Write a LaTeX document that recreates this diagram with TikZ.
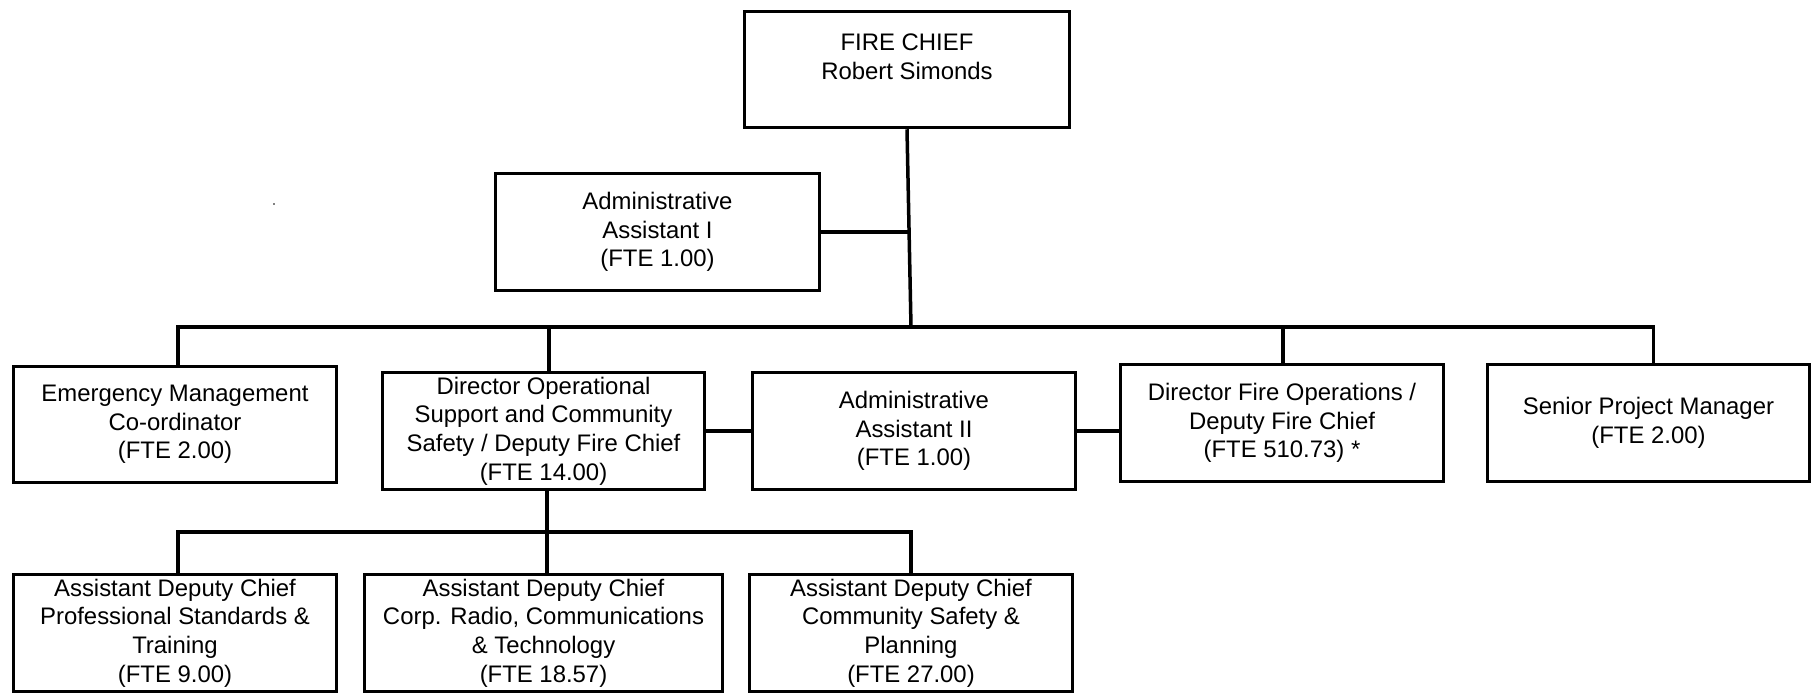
\documentclass[tikz,border=0pt]{standalone}
\usepackage{fontspec}
\setmainfont{Liberation Sans}
\begin{document}
\begin{tikzpicture}[x=1pt,y=-1pt,
  every node/.style={font=\fontsize{23.9}{28.7}\selectfont, align=center, inner sep=0pt},
  post/.style={draw, line width=3.5pt, rectangle, minimum width=#1, minimum height=117pt},
  post/.default=323pt,
  link/.style={line width=3.5pt, line join=miter}]
\useasboundingbox (0,0) rectangle (1815,694);

% top level
\node[post=325pt, minimum height=116pt] (chief) at (907,69.5) {};
\node (chieflabel) at (907,57) {FIRE CHIEF\\Robert Simonds};
\node[post=324pt] (admin1) at (657.5,232) {Administrative\\Assistant I\\(FTE 1.00)};

% second level
\node[post, minimum height=116pt] (emerg) at (175,424.5) {Emergency Management\\Co-ordinator\\(FTE 2.00)};
\node[post=322pt] (dirops) at (543.5,431) {Director Operational\\Support and Community\\Safety / Deputy Fire Chief\\(FTE 14.00)};
\node[post] (admin2) at (914,431) {Administrative\\Assistant II\\(FTE 1.00)};
\node[post] (dirfire) at (1282,423) {Director Fire Operations /\\Deputy Fire Chief\\(FTE 510.73) *};
\node[post=322pt] (senior) at (1648.5,423) {Senior Project Manager\\(FTE 2.00)};

% third level
\node[post] (adc1) at (175,633) {Assistant Deputy Chief\\Professional Standards \&\\Training\\(FTE 9.00)};
\node[post=358pt] (adc2) at (543.5,633) {Assistant Deputy Chief\\Corp. Radio, Communications\\\& Technology\\(FTE 18.57)};
\node[post] (adc3) at (911,633) {Assistant Deputy Chief\\Community Safety \&\\Planning\\(FTE 27.00)};

% bus corners and junctions
\coordinate (hub) at (911,327);
\coordinate (tap) at (909.5,232);
\coordinate (busl) at (178,327);
\coordinate (busr) at (1653.5,327);
\coordinate (drop2) at (549,327);
\coordinate (drop4) at (1283,327);
\coordinate (subl) at (178,532);
\coordinate (subm) at (547,532);
\coordinate (subr) at (911,532);

% connectors
\draw[link] (chief.south) -- (hub);
\draw[link] (admin1.east) -- (tap);
\draw[link] (emerg.north -| busl) -- (busl) -- (busr) -- (senior.north -| busr);
\draw[link] (drop2) -- (dirops.north -| drop2);
\draw[link] (drop4) -- (dirfire.north -| drop4);
\draw[link] (dirops.east) -- (admin2.west);
\draw[link] (admin2.east) -- (admin2.east -| dirfire.west);
\draw[link] (dirops.south -| subm) -- (adc2.north -| subm);
\draw[link] (adc1.north -| subl) -- (subl) -- (subr) -- (adc3.north -| subr);

% stray speck
\fill (274,204) circle (0.9);
\end{tikzpicture}
\end{document}
